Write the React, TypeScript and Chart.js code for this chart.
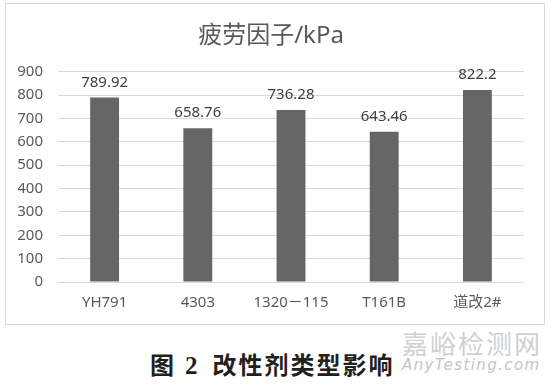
import React, { useEffect, useRef } from "react";
import { Chart, registerables } from "chart.js";

Chart.register(...registerables);

const categories = ["YH791", "4303", "1320－115", "T161B", "道改2#"];
const fatigueValues = [789.92, 658.76, 736.28, 643.46, 822.2];
const valueLabels = ["789.92", "658.76", "736.28", "643.46", "822.2"];
const yTicks = [0, 100, 200, 300, 400, 500, 600, 700, 800, 900];
const chartTitle = "疲劳因子/kPa";
const captionPrefix = "图";
const captionNumber = "2";
const captionText = "改性剂类型影响";

const FONT = "'Noto Sans', 'Noto Sans CJK SC', sans-serif";

const labelPlugin = {
  id: "valueLabels",
  afterDatasetsDraw(chart: any) {
    const ctx = chart.ctx;
    const meta = chart.getDatasetMeta(0);
    ctx.save();
    ctx.font = `15px ${FONT}`;
    ctx.fillStyle = "#404040";
    ctx.textAlign = "center";
    ctx.textBaseline = "alphabetic";
    meta.data.forEach((bar: any, i: number) => {
      ctx.fillText(valueLabels[i], bar.x, bar.y - 11);
    });
    ctx.restore();
  },
};

export default function App() {
  const ref = useRef<HTMLCanvasElement>(null);
  useEffect(() => {
    document.body.style.margin = "0";
    const chart = new Chart(ref.current!, {
      type: "bar",
      data: {
        labels: categories,
        datasets: [
          {
            data: fatigueValues,
            backgroundColor: "#666666",
            barPercentage: 0.31,
            categoryPercentage: 1,
          },
        ],
      },
      options: {
        animation: false,
        responsive: false,
        layout: { padding: { top: 18, right: 20, bottom: 8, left: 12 } },
        plugins: {
          legend: { display: false },
          tooltip: { enabled: false },
          title: {
            display: true,
            text: chartTitle,
            color: "#595959",
            font: { size: 24, family: FONT, weight: "normal", lineHeight: 1.2 },
            padding: { top: 0, bottom: 21 },
          },
        },
        scales: {
          x: {
            grid: { display: false, drawTicks: false },
            border: { display: false },
            afterFit(axis: any) {
              axis.height = 34;
            },
            ticks: {
              color: "#595959",
              font: { size: 15, family: FONT },
              padding: 12,
              maxRotation: 0,
            },
          },
          y: {
            min: 0,
            max: 900,
            afterBuildTicks(axis: any) {
              axis.ticks = yTicks.map((v) => ({ value: v }));
            },
            afterFit(axis: any) {
              axis.width = 40;
            },
            grid: { color: "#d9d9d9", drawTicks: false },
            border: { display: false },
            ticks: {
              color: "#595959",
              font: { size: 15, family: FONT },
              padding: 15,
            },
          },
        },
      },
      plugins: [labelPlugin],
    });
    return () => chart.destroy();
  }, []);

  return (
    <div style={{ position: "relative", width: 554, height: 385, background: "#fff", overflow: "hidden" }}>
      <div
        style={{
          position: "absolute",
          left: 5,
          top: 3,
          width: 538,
          height: 320,
          border: "1px solid #d9d9d9",
        }}
      >
        <canvas ref={ref} width={538} height={320} style={{ display: "block" }} />
      </div>
      <div
        style={{
          position: "absolute",
          left: 150,
          top: 348,
          fontFamily: "'Noto Sans CJK SC', sans-serif",
          fontWeight: 700,
          fontSize: 24,
          letterSpacing: 2,
          lineHeight: "32px",
          color: "#231f20",
          whiteSpace: "pre",
        }}
      >
        <span>{captionPrefix}</span>
        <span style={{ fontFamily: "'Liberation Serif', serif", fontSize: 25, marginLeft: 9 }}>{captionNumber}</span>
        <span style={{ marginLeft: 13 }}>{captionText}</span>
      </div>
      <div
        style={{
          position: "absolute",
          left: 402,
          top: 328,
          fontFamily: "'Noto Sans CJK SC', sans-serif",
          fontSize: 26,
          lineHeight: "30px",
          color: "#d0d0d0",
          letterSpacing: 2,
        }}
      >
        嘉峪检测网
      </div>
      <div
        style={{
          position: "absolute",
          left: 402,
          top: 356,
          fontFamily: "'DejaVu Sans', sans-serif",
          fontStyle: "italic",
          fontSize: 15,
          lineHeight: "18px",
          color: "#c4c4c4",
          letterSpacing: 1.4,
        }}
      >
        AnyTesting.com
      </div>
    </div>
  );
}
